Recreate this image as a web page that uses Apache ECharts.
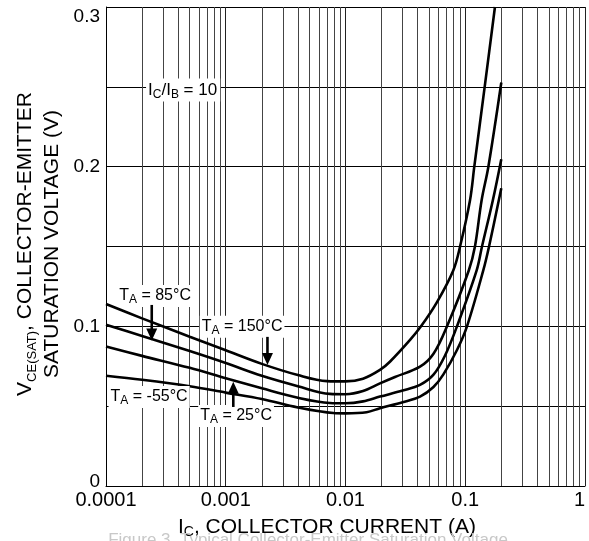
<!DOCTYPE html>
<html><head><meta charset="utf-8">
<script src="https://cdn.jsdelivr.net/npm/echarts@6/dist/echarts.min.js"></script>
<style>html,body{margin:0;padding:0;background:#fff}#c{width:589px;height:541px}</style>
</head><body><div id="c"></div>
<script>
// ---- data (IC in A, VCE(sat) in V) ----
const xTickLabels = ['0.0001', '0.001', '0.01', '0.1', '1'];
const yTickLabels = ['0', '0.1', '0.2', '0.3'];
const ta150 = [[0.0001,0.114],[0.0002,0.105],[0.0005,0.0935],[0.001,0.085],[0.002,0.0765],[0.004,0.0695],[0.007,0.0657],[0.01,0.0655],[0.014,0.0672],[0.0194,0.0727],[0.0236,0.078],[0.0346,0.0915],[0.0427,0.1],[0.0581,0.1152],[0.0794,0.135],[0.0905,0.15],[0.1096,0.179],[0.119,0.2],[0.1453,0.25],[0.177,0.3]];
const ta85 = [[0.0001,0.101],[0.0002,0.094],[0.0005,0.0845],[0.001,0.077],[0.002,0.069],[0.004,0.0625],[0.0074,0.0577],[0.01,0.0575],[0.014,0.0595],[0.0194,0.0643],[0.0259,0.0683],[0.0419,0.0747],[0.0543,0.0828],[0.0704,0.1],[0.107,0.135],[0.1205,0.15],[0.137,0.179],[0.156,0.2],[0.2,0.2527]];
const ta25 = [[0.0001,0.0873],[0.0002,0.0815],[0.0005,0.074],[0.001,0.0675],[0.002,0.0612],[0.004,0.0553],[0.0074,0.052],[0.01,0.0518],[0.014,0.053],[0.0194,0.056],[0.03,0.0598],[0.0419,0.0633],[0.0543,0.0697],[0.0675,0.0814],[0.0853,0.1],[0.1245,0.135],[0.138,0.15],[0.17,0.179],[0.2,0.2047]];
const taM55 = [[0.0001,0.069],[0.0002,0.0665],[0.0005,0.0625],[0.001,0.0585],[0.002,0.0545],[0.004,0.0492],[0.0079,0.0457],[0.01,0.0455],[0.015,0.0462],[0.0194,0.0487],[0.03,0.0525],[0.0419,0.056],[0.0543,0.062],[0.0657,0.0699],[0.0853,0.0852],[0.1034,0.1],[0.1414,0.135],[0.158,0.15],[0.2,0.1865]];
const seriesNames = ['TA = 150°C', 'TA = 85°C', 'TA = 25°C', 'TA = -55°C'];

// annotation anchors in data space
const labelAnchors = [
  {text: '{m|T}{s|A}{m| = 85°C}', x: 0.000257, y: 0.119},
  {text: '{m|T}{s|A}{m| = 150°C}', x: 0.00137, y: 0.0998},
  {text: '{m|T}{s|A}{m| = -55°C}', x: 0.000229, y: 0.0558},
  {text: '{m|T}{s|A}{m| = 25°C}', x: 0.00122, y: 0.0439}
];
const ratioAnchor = {text: '{m|I}{s|C}{m|/I}{s|B}{m| = 10}', x: 0.000216, y: 0.248};
const arrows = [
  {x: 0.000241, from: 0.1134, to: 0.0912},
  {x: 0.00223, from: 0.0934, to: 0.0758},
  {x: 0.001156, from: 0.0495, to: 0.0653}
];

const FONT = "'Liberation Sans', Arial, Helvetica, sans-serif";
const chart = echarts.init(document.getElementById('c'), null, {renderer: 'canvas'});

const minorX = [];
for (let d = -4; d < 0; d++) for (let m = 2; m <= 9; m++) minorX.push(+(m * Math.pow(10, d)).toPrecision(3));

const curveStyle = {color: '#000', width: 2.6};
function curve(name, data) {
  return {name, type: 'line', data, showSymbol: false, smooth: 0.35,
    lineStyle: curveStyle, itemStyle: {color: '#000'}, z: 5, silent: true, animation: false};
}

chart.setOption({
  animation: false,
  backgroundColor: '#fff',
  grid: {left: 106, right: 4, top: 7, bottom: 55},
  xAxis: {
    type: 'log', logBase: 10, min: 0.0001, max: 1,
    axisLine: {show: true, lineStyle: {color: '#000', width: 1}},
    axisTick: {show: false},
    splitLine: {show: true, lineStyle: {color: '#222', width: 1}},
    axisLabel: {fontSize: 20, color: '#000', fontFamily: FONT, margin: 4, alignMaxLabel: 'right',
      formatter: v => xTickLabels[Math.round(Math.log10(v)) + 4] || ''}
  },
  yAxis: {
    type: 'value', min: 0, max: 0.3, interval: 0.05,
    axisLine: {show: true, lineStyle: {color: '#000', width: 1}},
    axisTick: {show: false},
    splitLine: {show: true, lineStyle: {color: '#000', width: 1}},
    axisLabel: {fontSize: 19, color: '#000', fontFamily: FONT, margin: 6,
      verticalAlignMaxLabel: 'top', verticalAlignMinLabel: 'bottom',
      rich: {lo: {fontSize: 19, color: '#000', fontFamily: FONT, lineHeight: 9}},
      formatter: v => {
        const i = Math.round(v / 0.05);
        if (i % 2) return '';
        return i === 0 ? '{lo|' + yTickLabels[0] + '}' : yTickLabels[i / 2];
      }}
  },
  series: [
    {type: 'lines', coordinateSystem: 'cartesian2d', silent: true, z: 1, animation: false,
      polyline: false, symbol: ['none', 'none'],
      lineStyle: {color: '#444', width: 1, type: 'solid', opacity: 1},
      data: minorX.map(v => ({coords: [[v, 0], [v, 0.3]]}))},
    curve(seriesNames[0], ta150),
    curve(seriesNames[1], ta85),
    curve(seriesNames[2], ta25),
    curve(seriesNames[3], taM55)
  ]
});

const P = (x, y) => chart.convertToPixel({gridIndex: 0}, [x, y]);
const g = [];
const taRich = {
  m: {fontSize: 16, fontFamily: FONT, color: '#000', lineHeight: 20},
  s: {fontSize: 12, fontFamily: FONT, color: '#000', lineHeight: 8, verticalAlign: 'bottom'}
};
labelAnchors.forEach(a => {
  const p = P(a.x, a.y);
  g.push({type: 'text', x: p[0], y: p[1], z: 50,
    style: {text: a.text, rich: taRich, align: 'center', verticalAlign: 'middle',
      backgroundColor: '#fff', padding: [1, 2, 1, 2]}});
});
{
  const p = P(ratioAnchor.x, ratioAnchor.y);
  g.push({type: 'text', x: p[0], y: p[1], z: 50,
    style: {text: ratioAnchor.text, align: 'left', verticalAlign: 'middle', backgroundColor: '#fff', padding: [1, 3, 1, 2],
      rich: {m: {fontSize: 17, fontFamily: FONT, color: '#000', lineHeight: 21},
             s: {fontSize: 12, fontFamily: FONT, color: '#000', lineHeight: 8, verticalAlign: 'bottom'}}}});
}
arrows.forEach(a => {
  const p0 = P(a.x, a.from), p1 = P(a.x, a.to);
  const dir = p1[1] > p0[1] ? 1 : -1;
  const hl = 12, hw = 5.5;
  g.push({type: 'line', z: 60, shape: {x1: p0[0], y1: p0[1], x2: p1[0], y2: p1[1] - dir * (hl - 2)},
    style: {stroke: '#000', lineWidth: 2.6}});
  g.push({type: 'polygon', z: 60, shape: {points: [[p1[0] - hw, p1[1] - dir * hl], [p1[0] + hw, p1[1] - dir * hl], [p1[0], p1[1]]]},
    style: {fill: '#000'}});
});
// axis titles
g.push({type: 'text', x: 178, y: 527, z: 50,
  style: {text: '{m|I}{s|C}{m|, COLLECTOR CURRENT (A)}', align: 'left', verticalAlign: 'middle',
    rich: {m: {fontSize: 21, fontFamily: FONT, color: '#000', lineHeight: 24},
           s: {fontSize: 14, fontFamily: FONT, color: '#000', lineHeight: 11, verticalAlign: 'bottom'}}}});
g.push({type: 'text', x: 25, y: 244, rotation: Math.PI / 2, z: 50,
  style: {text: '{m|V}{s|CE(SAT)}{m|, COLLECTOR-EMITTER}', align: 'center', verticalAlign: 'middle',
    rich: {m: {fontSize: 21, fontFamily: FONT, color: '#000', lineHeight: 28},
           s: {fontSize: 13, fontFamily: FONT, color: '#000', lineHeight: 4, verticalAlign: 'bottom'}}}});
g.push({type: 'text', x: 52, y: 244, rotation: Math.PI / 2, z: 50,
  style: {text: 'SATURATION VOLTAGE (V)', align: 'center', verticalAlign: 'middle',
    fontSize: 21, fontFamily: FONT, fill: '#000'}});
// faint caption, cut off at the bottom edge
g.push({type: 'text', x: 308, y: 532, z: 50,
  style: {text: 'Figure 3. Typical Collector-Emitter Saturation Voltage', align: 'center', verticalAlign: 'top',
    fontSize: 17, fontFamily: FONT, fill: '#c8c8c8'}});
chart.setOption({graphic: g});
</script></body></html>
